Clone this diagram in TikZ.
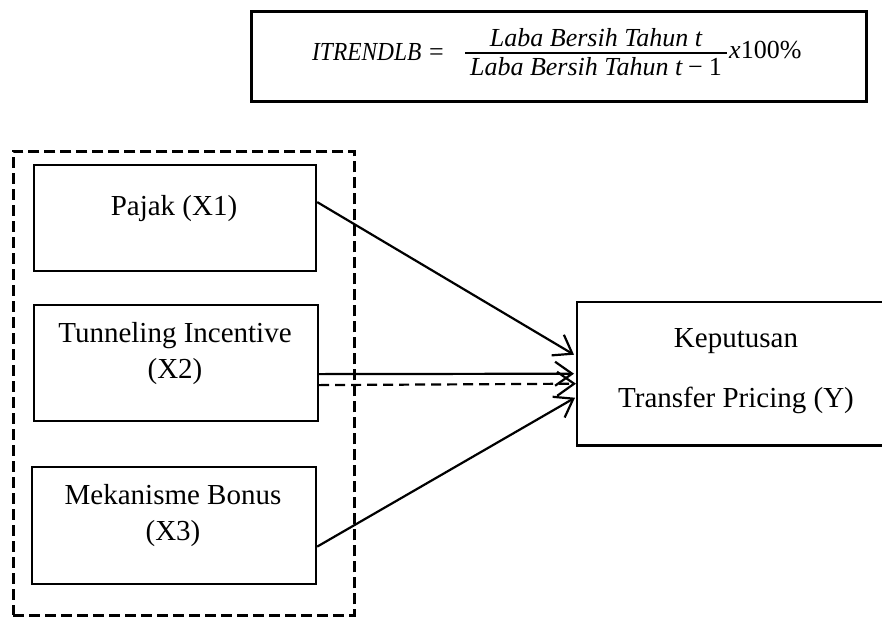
\documentclass[tikz,border=0pt]{standalone}
\usepackage{graphicx}
\usepackage{fontspec}
\setmainfont{Liberation Serif}
\usetikzlibrary{arrows.meta}
\tikzset{
  varbox/.style={draw, line width=2.2pt, anchor=north west, inner sep=0pt},
  lbl/.style={font=\fontsize{29}{36}\selectfont, anchor=base, inner sep=0pt},
  fml/.style={font=\fontsize{26}{30}\selectfont\itshape, inner sep=0pt},
  conn/.style={line width=2.2pt, -{Straight Barb[length=17pt,width=24pt,line width=2.2pt]}},
  dconn/.style={conn, dash pattern=on 10pt off 6pt},
}
\begin{document}
\begin{tikzpicture}[x=1pt,y=-1pt]
\useasboundingbox (0,0) rectangle (882,619);
% formula box
\node[varbox, line width=2.8pt, minimum width=615pt, minimum height=90pt] (F) at (250,10) {};
\node[fml, anchor=base west] (Flhs) at (312,60) {\scalebox{0.9}[1]{ITRENDLB}};
\node[fml, anchor=base west] (Feq) at (429,60) {\upshape =};
\node[fml, anchor=base] (Fnum) at (596,46) {Laba Bersih Tahun t};
\node[fml, anchor=base] (Fden) at (596,75) {Laba Bersih Tahun t\hspace{6pt}\upshape−\hspace{6pt}1};
\draw[line width=1.5pt] (465,53) coordinate (bl) -- (727,53) coordinate (br);
\node[fml, anchor=base west] (Fx) at (729,58) {x\upshape 100\%};
% dashed group
\node[varbox, line width=2.8pt, dash pattern=on 11pt off 5pt, minimum width=341pt, minimum height=464pt] (G) at (12,150) {};
% independent variables
\node[varbox, minimum width=282pt, minimum height=106pt] (X1) at (33,164) {};
\node[varbox, minimum width=284pt, minimum height=116pt] (X2) at (33,304) {};
\node[varbox, minimum width=284pt, minimum height=117pt] (X3) at (31,466) {};
\node[lbl] (t1) at (174,215) {Pajak (X1)};
\node[lbl] (t2a) at (175,342) {Tunneling Incentive};
\node[lbl] (t2b) at (175,378) {(X2)};
\node[lbl] (t3a) at (173,504) {Mekanisme Bonus};
\node[lbl] (t3b) at (173,540) {(X3)};
% dependent variable (right side runs past the page edge)
\node[anchor=north west, inner sep=0pt, minimum width=310pt, minimum height=143pt] (Y) at (577,302) {};
\draw[line width=2.2pt] (Y.north east) -- (Y.north west) -- (Y.south west) -- (Y.south east);
\node[lbl] (ty1) at (736,347) {Keputusan};
\node[lbl] (ty2) at (736,407) {Transfer Pricing (Y)};
% connectors
\draw[conn] ([yshift=16pt]X1.east) -- ([xshift=-3pt,yshift=19pt]Y.west);
\draw[conn] ([yshift=-11pt]X2.east) -- ([xshift=-3pt]Y.west);
\draw[dconn] ([yshift=-22pt]X2.east) -- ([xshift=-1pt,yshift=-10pt]Y.west);
\draw[conn] ([yshift=-21pt]X3.east) -- ([xshift=-2pt,yshift=-24pt]Y.west);
\end{tikzpicture}
\end{document}
